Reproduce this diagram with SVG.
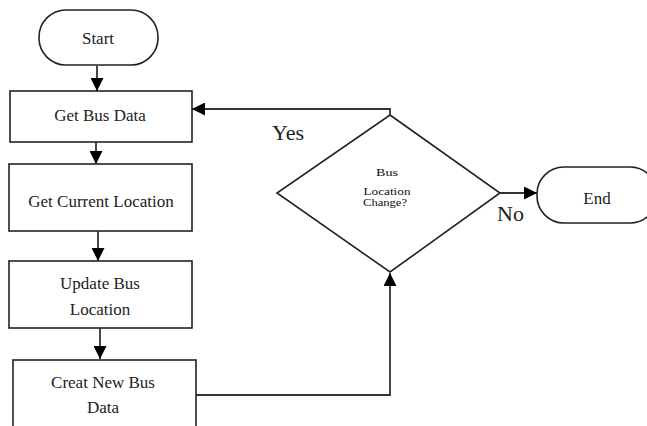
<svg xmlns="http://www.w3.org/2000/svg" width="647" height="426" viewBox="0 0 647 426">
<style>
.shape{fill:#fff;stroke:#222;stroke-width:1.6}
.line{fill:none;stroke:#333;stroke-width:1.8}
text{font-family:"Liberation Serif","Times New Roman",serif;fill:#222;text-anchor:middle}
.t{font-size:17px}
.s{font-size:10px;fill:#111}
.lbl{font-size:22px;text-anchor:start}
</style>
<defs>
<marker id="ahb" viewBox="0 0 10 10" refX="10" refY="5" markerWidth="13" markerHeight="13" markerUnits="userSpaceOnUse" orient="auto">
<path d="M0,0 L10,5 L0,10 Z" fill="#000"/>
</marker>
</defs>
<g id="start">
<rect class="shape" x="39" y="10" width="119" height="55" rx="27" ry="27"/>
<text class="t" x="98" y="44">Start</text>
</g>
<g id="get-bus-data">
<rect class="shape" x="10" y="91" width="182" height="51"/>
<text class="t" x="100" y="121">Get Bus Data</text>
</g>
<g id="get-current-location">
<rect class="shape" x="9" y="164" width="183" height="67"/>
<text class="t" x="101" y="207">Get Current Location</text>
</g>
<g id="update-bus-location">
<rect class="shape" x="9" y="261" width="183" height="67"/>
<text class="t" x="100" y="289">Update Bus</text>
<text class="t" x="100" y="315">Location</text>
</g>
<g id="creat-new-bus-data">
<rect class="shape" x="13" y="360" width="183" height="80"/>
<text class="t" x="103" y="388">Creat New Bus</text>
<text class="t" x="103" y="413">Data</text>
</g>
<g id="decision">
<polygon class="shape" points="390,115 500,193 390,272 277,193"/>
<text class="s" x="387" y="176" textLength="22" lengthAdjust="spacingAndGlyphs">Bus</text>
<text class="s" x="387" y="195" textLength="47" lengthAdjust="spacingAndGlyphs">Location</text>
<text class="s" x="385" y="206" textLength="44" lengthAdjust="spacingAndGlyphs">Change?</text>
</g>
<g id="end">
<rect class="shape" x="537" y="167" width="120" height="56" rx="27" ry="27"/>
<text class="t" x="597" y="204">End</text>
</g>
<g id="connectors">
<line class="line" x1="97" y1="66" x2="97" y2="91" marker-end="url(#ahb)"/>
<line class="line" x1="96" y1="142" x2="96" y2="164" marker-end="url(#ahb)"/>
<line class="line" x1="98" y1="231" x2="98" y2="261" marker-end="url(#ahb)"/>
<line class="line" x1="100" y1="328" x2="100" y2="359" marker-end="url(#ahb)"/>
<polyline class="line" points="196,395 390,395 390,273" marker-end="url(#ahb)"/>
<polyline class="line" points="390,115 390,109 192,109" marker-end="url(#ahb)"/>
<line class="line" x1="500" y1="193" x2="537" y2="193" marker-end="url(#ahb)"/>
<text class="lbl" x="272" y="140">Yes</text>
<text class="lbl" x="497" y="221">No</text>
</g>
</svg>
